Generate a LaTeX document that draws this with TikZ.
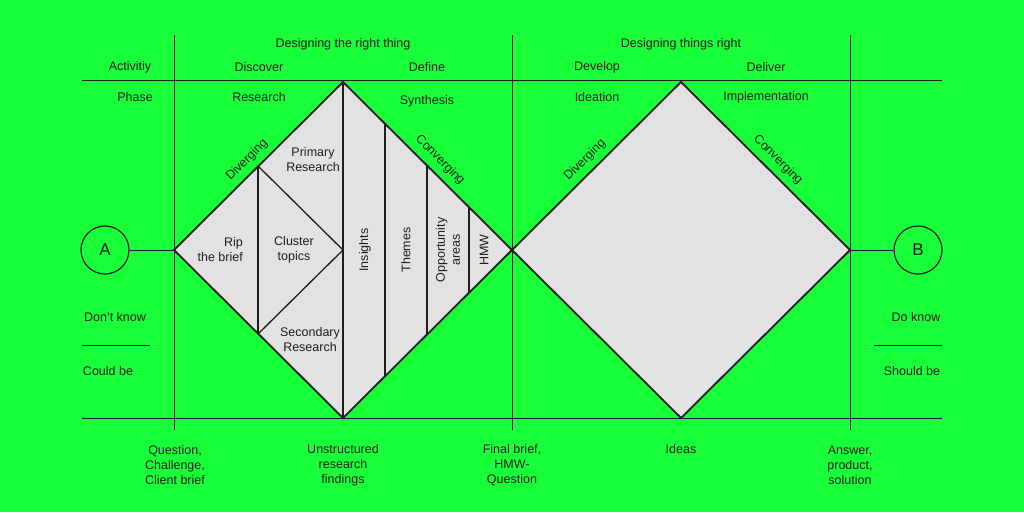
\documentclass[tikz,border=0pt]{standalone}
\usepackage{fontspec}
\setmainfont{Liberation Sans}
\definecolor{bg}{RGB}{24,255,58}
\definecolor{ink}{RGB}{30,30,30}
\definecolor{fillg}{RGB}{226,226,226}
\begin{document}
\begin{tikzpicture}[x=1pt,y=-1pt,
  grid/.style={draw=ink,line width=0.9pt},
  dia/.style={draw=ink,line width=1.8pt,fill=fillg,line join=miter},
  inner/.style={draw=ink,line width=1.3pt},
  lbl/.style={font=\fontsize{12.5}{15}\selectfont,text=ink,align=center,inner sep=0pt},
  circ/.style={draw=ink,line width=1.2pt,circle,minimum size=48pt,font=\fontsize{17}{18}\selectfont,text=ink}]
\fill[bg] (0,0) rectangle (1024,512);
\useasboundingbox (0,0) rectangle (1024,512);
% grid
\draw[grid] (82,80) -- (942,80);
\draw[grid] (82,418) -- (942,418);
\foreach \x in {174,512,850} \draw[grid] (\x,35) -- (\x,430);
\draw[grid] (82,345) -- (150,345);
\draw[grid] (874,345) -- (942,345);
% diamonds
\coordinate (l1) at (174,250); \coordinate (t1) at (343,82);
\coordinate (r1) at (512,250); \coordinate (b1) at (343,418);
\coordinate (t2) at (681,82); \coordinate (r2) at (850,250); \coordinate (b2) at (681,418);
\draw[dia] (l1) -- (t1) -- (r1) -- (b1) -- cycle;
\draw[dia] (r1) -- (t2) -- (r2) -- (b2) -- cycle;
% inner lines
\coordinate (c1) at (343,250);
\draw[inner] (258,166) -- (258,334);
\draw[inner] (258,166) -- (c1) -- (258,334);
\draw[inner] (343,82) -- (343,418);
\draw[inner] (385,124) -- (385,376);
\draw[inner] (427,166) -- (427,334);
\draw[inner] (469,208) -- (469,292);
% circles
\node[circ] (A) at (105,250) {A};
\node[circ] (B) at (918,250) {B};
\draw[grid] (A) -- (l1);
\draw[grid] (r2) -- (B);
% texts
\node[lbl] (h1) at (343,44) {Designing the right thing};
\node[lbl] (h2) at (681,44) {Designing things right};
\node[lbl] (a1) at (130,67) {Activitiy};
\node[lbl] (a2) at (259,67) {Discover};
\node[lbl] (a3) at (427,67) {Define};
\node[lbl] (a4) at (597,67) {Develop};
\node[lbl] (a5) at (766,67) {Deliver};
\node[lbl] (p1) at (135,97) {Phase};
\node[lbl] (p2) at (259,97) {Research};
\node[lbl] (p3) at (427,101) {Synthesis};
\node[lbl] (p4) at (597,97) {Ideation};
\node[lbl] (p5) at (766,97) {Implementation};
\node[lbl,rotate=45] (d1) at (247,160) {Diverging};
\node[lbl,rotate=-45] (g1) at (440,160) {Converging};
\node[lbl,rotate=45] (d2) at (585,160) {Diverging};
\node[lbl,rotate=-45] (g2) at (778,160) {Converging};
\node[lbl] (pr) at (313,160) {Primary\\Research};
\node[lbl,align=right,anchor=east] (rip) at (243,250) {Rip\\the brief};
\node[lbl] (ct) at (294,250) {Cluster\\topics};
\node[lbl] (sr) at (310,340) {Secondary\\Research};
\node[lbl,rotate=90] (ins) at (365,250) {Insights};
\node[lbl,rotate=90] (th) at (406,250) {Themes};
\node[lbl,rotate=90] (op) at (448,250) {Opportunity\\areas};
\node[lbl,rotate=90] (hmw) at (484,250) {HMW};
\node[lbl] (dk) at (115,317) {Don’t know};
\node[lbl] (cb) at (108,371) {Could be};
\node[lbl] (dok) at (916,317) {Do know};
\node[lbl] (sb) at (912,371) {Should be};
\node[lbl] (q) at (175,465) {Question,\\Challenge,\\Client brief};
\node[lbl] (u) at (343,465) {Unstructured\\research\\findings};
\node[lbl] (f) at (512,465) {Final brief,\\HMW-\\Question};
\node[lbl] (i) at (681,449) {Ideas};
\node[lbl] (an) at (850,465) {Answer,\\product,\\solution};
\end{tikzpicture}
\end{document}
